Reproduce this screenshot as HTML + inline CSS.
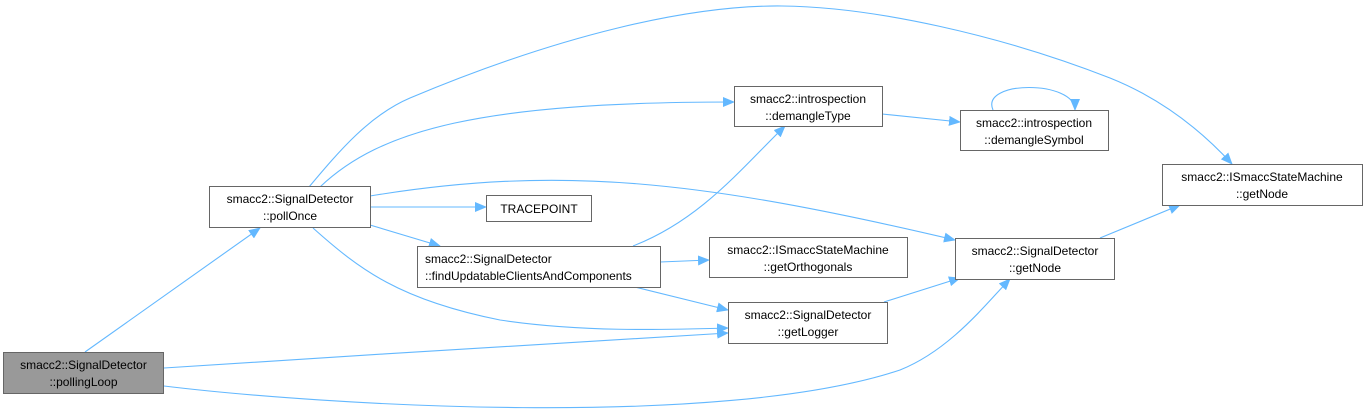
<!DOCTYPE html>
<html><head><meta charset="utf-8"><style>
html,body{margin:0;padding:0;background:#fff;}
svg{display:block;}
text{font-family:"Liberation Sans",Arial,sans-serif;font-size:12px;fill:#000;}
</style></head><body>
<svg width="1365" height="419" viewBox="0 0 1365 419" xmlns="http://www.w3.org/2000/svg">
<defs>
<marker id="a" markerWidth="12" markerHeight="10" refX="11" refY="5" orient="auto" markerUnits="userSpaceOnUse">
<path d="M0,0 L12,5 L0,10 z" fill="#63b8ff"/>
</marker>
</defs>
<g fill="none" stroke="#63b8ff" stroke-width="1.1" marker-end="url(#a)">
<path d="M85,352 L260,228"/>
<path d="M164,368 C 350,355 550,345 728,333"/>
<path d="M164,386 C 320,405 720,430 900,370 C 950,350 985,305 1010,279"/>
<path d="M320,187 C 380,130 480,102 734,102"/>
<path d="M309,187 C 340,150 370,115 410,98 C 560,35 690,5 782,6 C 874,7 1000,35 1110,78 C 1170,102 1210,140 1232,164"/>
<path d="M370,196 C 560,165 700,180 955,240"/>
<path d="M370,207 L486,207"/>
<path d="M370,225 L440,246"/>
<path d="M313,228 C 360,270 400,300 500,320 C 580,332 660,330 728,328"/>
<path d="M633,246 C 700,220 740,170 785,126"/>
<path d="M660,262 L709,260"/>
<path d="M635,287 L728,310"/>
<path d="M882,114 L960,122"/>
<path d="M993,110 C 980,80 1075,80 1075,110"/>
<path d="M884,302 L960,278"/>
<path d="M1100,238 L1180,205"/>
</g>
<g stroke="#666" stroke-width="1" fill="#fff">
<rect x="3.5" y="352.5" width="160" height="41" fill="#999"/>
<rect x="209.5" y="186.5" width="161" height="41"/>
<rect x="486.5" y="195.5" width="105" height="26"/>
<rect x="417.5" y="246.5" width="243" height="41"/>
<rect x="734.5" y="86.5" width="148" height="40"/>
<rect x="960.5" y="110.5" width="148" height="40"/>
<rect x="1162.5" y="164.5" width="200" height="41"/>
<rect x="709.5" y="237.5" width="198" height="40"/>
<rect x="955.5" y="238.5" width="159" height="41"/>
<rect x="728.5" y="302.5" width="159" height="41"/>
</g>
<g text-anchor="middle">
<text x="83.5" y="369">smacc2::SignalDetector</text><text x="83.5" y="386">::pollingLoop</text>
<text x="290" y="203">smacc2::SignalDetector</text><text x="290" y="220">::pollOnce</text>
<text x="539" y="213">TRACEPOINT</text>
<text x="808" y="103">smacc2::introspection</text><text x="808" y="120">::demangleType</text>
<text x="1034" y="127">smacc2::introspection</text><text x="1034" y="144">::demangleSymbol</text>
<text x="1262" y="181">smacc2::ISmaccStateMachine</text><text x="1262" y="198">::getNode</text>
<text x="808" y="254">smacc2::ISmaccStateMachine</text><text x="808" y="271">::getOrthogonals</text>
<text x="1035" y="255">smacc2::SignalDetector</text><text x="1035" y="272">::getNode</text>
<text x="808" y="319">smacc2::SignalDetector</text><text x="808" y="336">::getLogger</text>
</g>
<text x="425" y="263">smacc2::SignalDetector</text><text x="425" y="280">::findUpdatableClientsAndComponents</text>
</svg>
</body></html>
